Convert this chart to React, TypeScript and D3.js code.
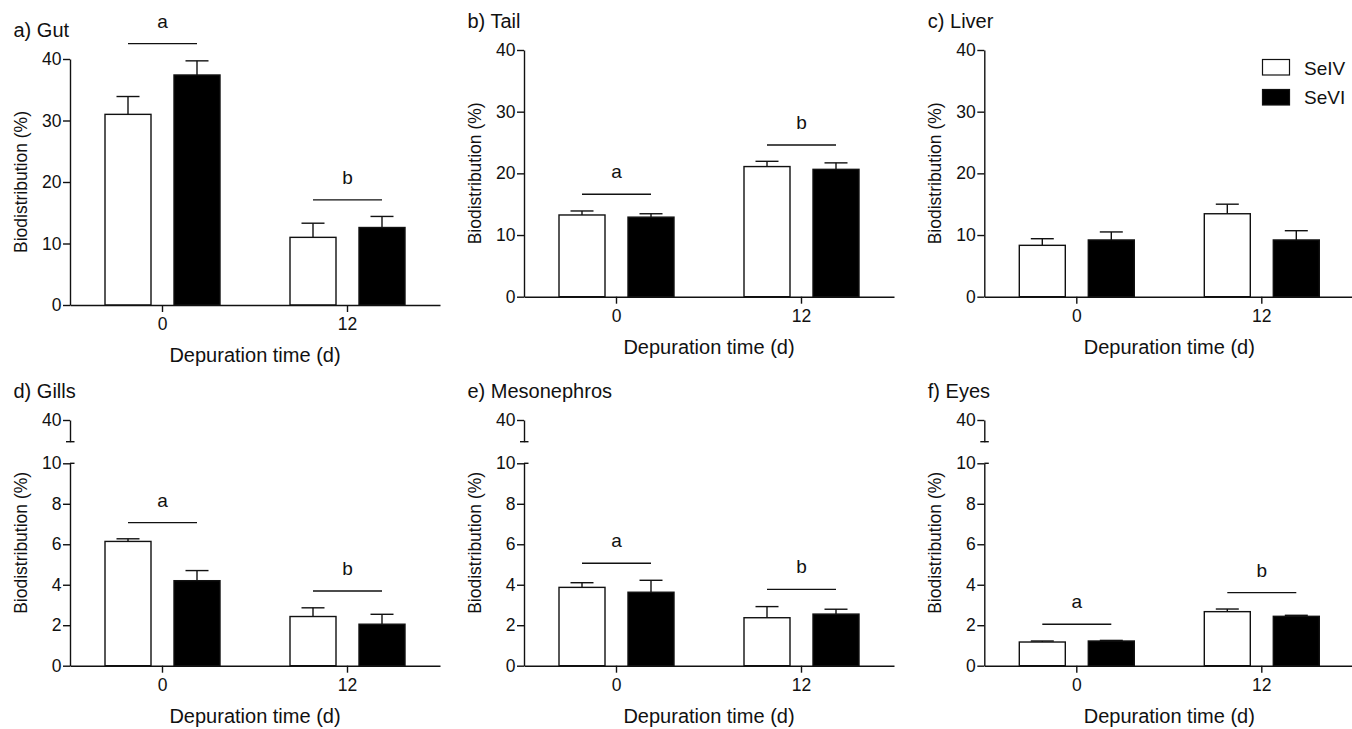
import { useEffect, useRef } from 'react';
import * as d3 from 'd3';

// categories
const times = ['0', '12'];
const forms = ['SeIV', 'SeVI'];
const panelTitles = ['a) Gut', 'b) Tail', 'c) Liver', 'd) Gills', 'e) Mesonephros', 'f) Eyes'];

// means and upper error (SEM) per panel, [t0, t12]
const seIVMean = [[31.0, 11.0], [13.25, 21.1], [8.33, 13.45], [6.14, 2.43], [3.87, 2.37], [1.17, 2.67]];
const seIVErr = [[2.9, 2.3], [0.65, 0.85], [1.07, 1.55], [0.13, 0.43], [0.23, 0.55], [0.05, 0.13]];
const seVIMean = [[37.4, 12.6], [12.9, 20.65], [9.2, 9.2], [4.2, 2.05], [3.63, 2.55], [1.22, 2.44]];
const seVIErr = [[2.3, 1.8], [0.55, 1.05], [1.3, 1.5], [0.5, 0.49], [0.59, 0.24], [0.03, 0.05]];

// significance bars: letter + level (y value) per time point
const sigLetters = ['a', 'b'];
const sigLevels = [[42.5, 17.1], [16.6, 24.6], [], [7.07, 3.69], [5.06, 3.77], [2.05, 3.61]];

const topTicks = [0, 10, 20, 30, 40];
const lowTicks = [0, 2, 4, 6, 8, 10];
const breakTick = [40];

const FONT = '"Liberation Sans", Arial, Helvetica, sans-serif';
const INK = '#111';

export default function App() {
  const svgRef = useRef<SVGSVGElement>(null);

  useEffect(() => {
    if (!svgRef.current) return;
    document.body.style.margin = '0';
    const svg = d3.select(svgRef.current);
    svg.selectAll('*').remove();
    svg.append('rect').attr('width', 1352).attr('height', 729).attr('fill', '#fff');

    const axisX = [70, 524, 984.3];
    const plotW = 370;

    panelTitles.forEach((title, i) => {
      const row = Math.floor(i / 3);
      const col = i % 3;
      const x0 = axisX[col];
      const broken = row === 1;
      const yBase = row === 0 ? (i === 0 ? 305 : 296.7) : 665.7;
      const yTopPx = row === 0 ? (i === 0 ? 59 : 50) : 463.3;

      const y = d3.scaleLinear().domain([0, broken ? 10 : 40]).range([yBase, yTopPx]);
      const x = d3.scaleBand().domain(times).range([x0, x0 + plotW]);
      const xs = d3.scaleBand().domain(forms).range([-57.5, 57.5]).paddingInner(1 / 3);
      const bw = xs.bandwidth();

      const g = svg.append('g').attr('font-family', FONT);
      const axisTopPx = broken ? 420 : yTopPx;

      // title
      g.append('text')
        .attr('x', x0 - 56.5)
        .attr('y', axisTopPx - 22)
        .attr('font-size', 20)
        .attr('fill', INK)
        .text(title);

      // y label
      const cy = (yBase + axisTopPx) / 2;
      g.append('text')
        .attr('transform', `translate(${x0 - 49.5},${cy}) rotate(-90)`)
        .attr('text-anchor', 'middle')
        .attr('dy', '0.35em')
        .attr('font-size', 17.5)
        .attr('fill', INK)
        .text('Biodistribution (%)');

      // x label
      g.append('text')
        .attr('x', x0 + plotW / 2)
        .attr('y', yBase + 57)
        .attr('text-anchor', 'middle')
        .attr('font-size', 20)
        .attr('fill', INK)
        .text('Depuration time (d)');

      // bars
      const rows = times.flatMap((t, ti) => [
        { t, f: 'SeIV', v: seIVMean[i][ti], e: seIVErr[i][ti] },
        { t, f: 'SeVI', v: seVIMean[i][ti], e: seVIErr[i][ti] },
      ]);
      const bx = (d: any) => (x(d.t) as number) + x.bandwidth() / 2 + (xs(d.f) as number);

      // error bars (upper only)
      g.selectAll('.err')
        .data(rows)
        .join('g')
        .each(function (d: any) {
          const cx = bx(d) + bw / 2;
          const s = d3.select(this);
          s.append('line')
            .attr('x1', cx).attr('x2', cx)
            .attr('y1', y(d.v)).attr('y2', y(d.v + d.e))
            .attr('stroke', INK).attr('stroke-width', 1.4);
          s.append('line')
            .attr('x1', cx - bw / 4).attr('x2', cx + bw / 4)
            .attr('y1', y(d.v + d.e)).attr('y2', y(d.v + d.e))
            .attr('stroke', INK).attr('stroke-width', 1.4);
        });

      g.selectAll('.bar')
        .data(rows)
        .join('rect')
        .attr('x', (d: any) => bx(d))
        .attr('y', (d: any) => y(d.v))
        .attr('width', bw)
        .attr('height', (d: any) => y(0) - y(d.v))
        .attr('fill', (d: any) => (d.f === 'SeIV' ? '#fff' : '#000'))
        .attr('stroke', INK)
        .attr('stroke-width', 1.4);

      const styleAxis = (a: any) => {
        a.select('.domain').attr('stroke', INK).attr('stroke-width', 1.4);
        a.selectAll('line').attr('stroke', INK).attr('stroke-width', 1.4);
        a.selectAll('text').attr('font-size', 17.5).attr('font-family', FONT).attr('fill', INK);
      };

      // y axis
      const yAxis = g.append('g')
        .attr('transform', `translate(${x0},0)`)
        .call(d3.axisLeft(y).tickValues(broken ? lowTicks : topTicks).tickSize(7).tickPadding(1.5).tickSizeOuter(0));
      styleAxis(yAxis);
      if (broken) {
        const yb = d3.scaleLinear().domain([10, 40]).range([441.7, 420]);
        const yAxis2 = g.append('g')
          .attr('transform', `translate(${x0},0)`)
          .call(d3.axisLeft(yb).tickValues(breakTick).tickSize(7).tickPadding(1.5).tickSizeOuter(0));
        styleAxis(yAxis2);
        g.append('line')
          .attr('x1', x0 - 4).attr('x2', x0 + 4.5)
          .attr('y1', 441.7).attr('y2', 441.7)
          .attr('stroke', INK).attr('stroke-width', 1.4);
        g.append('line')
          .attr('x1', x0).attr('x2', x0 + 4.5)
          .attr('y1', y(10)).attr('y2', y(10))
          .attr('stroke', INK).attr('stroke-width', 1.4);
      }

      // x axis
      const xAxis = g.append('g')
        .attr('transform', `translate(0,${yBase})`)
        .call(d3.axisBottom(x).tickSize(7).tickPadding(6).tickSizeOuter(0));
      styleAxis(xAxis);

      // significance lines
      sigLevels[i].forEach((lv, ti) => {
        const t = times[ti];
        const c = (x(t) as number) + x.bandwidth() / 2;
        const xa = c + (xs('SeIV') as number) + bw / 2;
        const xb = c + (xs('SeVI') as number) + bw / 2;
        g.append('line')
          .attr('x1', xa).attr('x2', xb)
          .attr('y1', y(lv)).attr('y2', y(lv))
          .attr('stroke', INK).attr('stroke-width', 1.4);
        g.append('text')
          .attr('x', (xa + xb) / 2)
          .attr('y', y(lv) - 16)
          .attr('text-anchor', 'middle')
          .attr('font-size', 19)
          .attr('fill', INK)
          .text(sigLetters[ti]);
      });

      // legend (panel c)
      if (i === 2) {
        const lg = g.append('g');
        forms.forEach((f, k) => {
          lg.append('rect')
            .attr('x', 1262.5).attr('y', 59.5 + k * 30)
            .attr('width', 27).attr('height', 15.5)
            .attr('fill', k === 0 ? '#fff' : '#000')
            .attr('stroke', INK).attr('stroke-width', 1.2);
          lg.append('text')
            .attr('x', 1304).attr('y', 74.5 + k * 29.5)
            .attr('font-size', 19)
            .attr('fill', INK)
            .text(f);
        });
      }
    });
  }, []);

  return <svg ref={svgRef} width={1352} height={729} style={{ display: 'block' }} />;
}
